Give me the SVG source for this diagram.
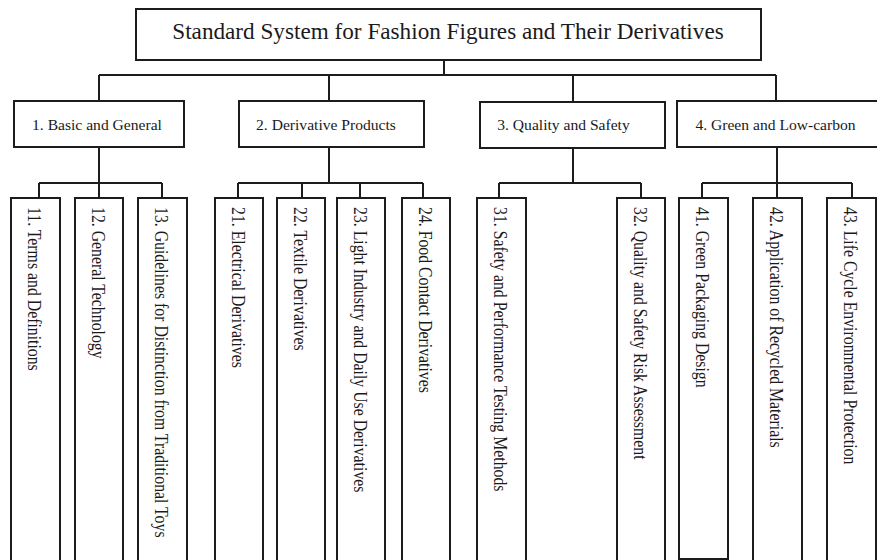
<svg xmlns="http://www.w3.org/2000/svg" width="877" height="560" viewBox="0 0 877 560">
  <style>
    .box { fill: #ffffff; stroke: #1c1c1c; stroke-width: 2; }
    .wire { fill: none; stroke: #1c1c1c; stroke-width: 2; }
    text { font-family: "Liberation Serif", "Times New Roman", serif; fill: #1a1a1a; }
    .title { font-size: 23.2px; text-anchor: middle; }
    .cat { font-size: 15.6px; text-anchor: middle; }
    .item { font-size: 15.8px; }
  </style>
  <rect width="877" height="560" fill="#ffffff"/>

  <!-- connectors -->
  <g id="connectors" class="wire">
    <path d="M444 60 V75 M99 75 H776 M99 75 V101 M329 75 V101 M573 75 V101 M776 75 V101"/>
    <path d="M99 147 V183 M39 183 H162 M39 183 V198 M99 183 V198 M162 183 V198"/>
    <path d="M329 147 V183 M238 183 H423 M238 183 V198 M302 183 V198 M360 183 V198 M423 183 V198"/>
    <path d="M573 148 V183 M499 183 H641 M499 183 V198 M641 183 V198"/>
    <path d="M777 147 V183 M702 183 H852 M702 183 V198 M777 183 V198 M852 183 V198"/>
  </g>

  <!-- root -->
  <g id="root">
    <rect class="box" x="136" y="9" width="625" height="51"/>
    <text class="title" x="448" y="39">Standard System for Fashion Figures and Their Derivatives</text>
  </g>

  <!-- categories -->
  <g id="cat1">
    <rect class="box" x="14" y="101" width="170" height="46"/>
    <text class="cat" x="97" y="130">1. Basic and General</text>
  </g>
  <g id="cat2">
    <rect class="box" x="239" y="101" width="185" height="46"/>
    <text class="cat" x="326" y="130">2. Derivative Products</text>
  </g>
  <g id="cat3">
    <rect class="box" x="480" y="102" width="185" height="46"/>
    <text class="cat" x="563.5" y="130">3. Quality and Safety</text>
  </g>
  <g id="cat4">
    <rect class="box" x="677" y="101" width="204" height="46"/>
    <text class="cat" x="775.5" y="130">4. Green and Low-carbon</text>
  </g>

  <!-- standards -->
  <g id="s11">
    <rect class="box" x="11" y="198" width="49" height="370"/>
    <text class="item" transform="translate(28 207) rotate(90) scale(1 1.22)">11. Terms and Definitions</text>
  </g>
  <g id="s12">
    <rect class="box" x="75" y="198" width="48" height="370"/>
    <text class="item" transform="translate(91.5 207) rotate(90) scale(1 1.22)">12. General Technology</text>
  </g>
  <g id="s13">
    <rect class="box" x="138" y="198" width="49" height="370"/>
    <text class="item" transform="translate(155 207) rotate(90) scale(1 1.22)">13. Guidelines for Distinction from Traditional Toys</text>
  </g>
  <g id="s21">
    <rect class="box" x="215" y="198" width="48" height="370"/>
    <text class="item" transform="translate(231.5 207) rotate(90) scale(1 1.22)">21. Electrical Derivatives</text>
  </g>
  <g id="s22">
    <rect class="box" x="277" y="198" width="48" height="370"/>
    <text class="item" transform="translate(293.5 207) rotate(90) scale(1 1.22)">22. Textile Derivatives</text>
  </g>
  <g id="s23">
    <rect class="box" x="337" y="198" width="48" height="370"/>
    <text class="item" transform="translate(353.5 207) rotate(90) scale(1 1.22)">23. Light Industry and Daily Use Derivatives</text>
  </g>
  <g id="s24">
    <rect class="box" x="402" y="198" width="48" height="370"/>
    <text class="item" transform="translate(418.5 207) rotate(90) scale(1 1.22)">24. Food Contact Derivatives</text>
  </g>
  <g id="s31">
    <rect class="box" x="477" y="198" width="49" height="370"/>
    <text class="item" transform="translate(494 207) rotate(90) scale(1 1.22)">31. Safety and Performance Testing Methods</text>
  </g>
  <g id="s32">
    <rect class="box" x="617" y="198" width="48" height="370"/>
    <text class="item" transform="translate(633.5 207) rotate(90) scale(1 1.22)">32. Quality and Safety Risk Assessment</text>
  </g>
  <g id="s41">
    <rect class="box" x="679" y="198" width="49" height="361"/>
    <text class="item" transform="translate(696 207) rotate(90) scale(1 1.22)">41. Green Packaging Design</text>
  </g>
  <g id="s42">
    <rect class="box" x="753" y="198" width="49" height="370"/>
    <text class="item" transform="translate(770 207) rotate(90) scale(1 1.22)">42. Application of Recycled Materials</text>
  </g>
  <g id="s43">
    <rect class="box" x="827" y="198" width="49" height="370"/>
    <text class="item" transform="translate(844 207) rotate(90) scale(1 1.22)">43. Life Cycle Environmental Protection</text>
  </g>
</svg>
